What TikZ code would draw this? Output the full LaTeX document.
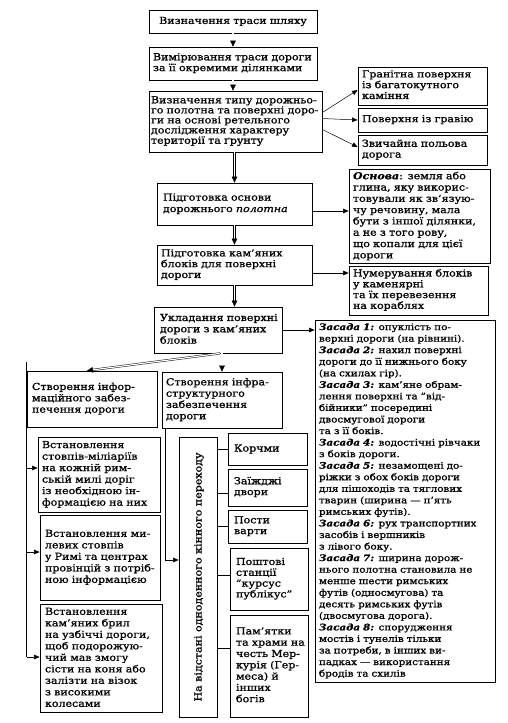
\documentclass[tikz,border=0pt]{standalone}
\usepackage{fontspec}
\setmainfont{DejaVu Serif}[FakeStretch=1.15,FakeBold=1.2]
\usetikzlibrary{arrows.meta}
\newcommand{\zsf}{\bfseries\itshape}
\newcommand{\tl}[1]{\begin{tabular}{@{}l@{}}#1\end{tabular}}
\begin{document}
\begin{tikzpicture}[x=1pt,y=-1pt,
  box/.style={draw, line width=0.75pt, inner xsep=4pt, inner ysep=2pt, align=left,
    font=\fontsize{9.6}{10.8}\selectfont},
  arr/.style={line width=0.5pt, -{Triangle[length=5.5pt,width=4.5pt]}},
  dbl/.style={double, double distance=1.2pt, line width=0.45pt, -{Triangle[length=6pt,width=5.5pt]}},
  ln/.style={line width=0.5pt}]
\useasboundingbox (0,0) rectangle (508,723);

\node[box, text width=160pt, minimum height=23pt, align=center] (b1) at (233,21.5) {Визначення траси шляху};
\node[box, text width=160pt, minimum height=33pt] (b2) at (233,63.5) {\tl{Вимірювання траси дороги\\за її окремими ділянками}};
\node[box, inner xsep=2pt, text width=169pt, minimum height=61pt, font=\fontsize{9.6}{9.9}\selectfont] (b3) at (235.5,121.5) {\tl{Визначення типу дорожньо-\\го полотна та поверхні доро-\\ги на основі ретельного\\дослідження характеру\\території та ґрунту}};
\node[box, text width=121pt, minimum height=38pt] (rA) at (422.5,86) {\tl{Гранітна поверхня\\із багатокутного\\каміння}};
\node[box, text width=121pt, minimum height=24pt] (rB) at (422.5,120) {\tl{Поверхня із гравію}};
\node[box, text width=121pt, minimum height=30pt] (rC) at (422.5,150) {\tl{Звичайна польова\\дорога}};
\node[box, inner xsep=6pt, text width=143pt, minimum height=42pt, font=\fontsize{9.6}{11.5}\selectfont] (b4) at (234.5,204) {\tl{Підготовка основи\\дорожнього \textit{полотна}}};
\node[box, text width=133pt, minimum height=93pt, font=\fontsize{9.6}{11.3}\selectfont] (osn) at (419.5,216.5) {\tl{\textbf{\textit{Основа}}: земля або\\глина, яку викорис-\\товували як зв'язую-\\чу речовину, мала\\бути з іншої ділянки,\\а не з того рову,\\що копали для цієї\\дороги}};
\node[box, text width=147pt, minimum height=40pt] (b5) at (234.5,265) {\tl{Підготовка кам'яних\\блоків для поверхні\\дороги}};
\node[box, text width=131pt, minimum height=49pt] (num) at (418.5,290.5) {\tl{Нумерування блоків\\у каменярні\\та їх перевезення\\на кораблях}};
\node[box, inner xsep=6pt, text width=116pt, minimum height=46pt, font=\fontsize{9.6}{11.3}\selectfont] (b6) at (218,330) {\tl{Укладання поверхні\\дороги з кам'яних\\блоків}};
\node[box, text width=172pt, minimum height=362pt, font=\fontsize{9}{11.55}\selectfont] (zas) at (405,501) {\tl{%
{\zsf Засада 1:} опуклість по-\\верхні дороги (на рівнині).\\
{\zsf Засада 2:} нахил поверхні\\дороги до її нижнього боку\\(на схилах гір).\\
{\zsf Засада 3:} кам'яне обрам-\\лення поверхні та "від-\\бійники" посередині\\двосмугової дороги\\та з її боків.\\
{\zsf Засада 4:} водостічні рівчаки\\з боків дороги.\\
{\zsf Засада 5:} незамощені до-\\ріжки з обох боків дороги\\для пішоходів та тяглових\\тварин (ширина --- п'ять\\римських футів).\\
{\zsf Засада 6:} рух транспортних\\засобів і вершників\\з лівого боку.\\
{\zsf Засада 7:} ширина дорож-\\нього полотна становила не\\менше шести римських\\футів (односмугова) та\\десять римських футів\\(двосмугова дорога).\\
{\zsf Засада 8:} спорудження\\мостів і тунелів тільки\\за потреби, в інших ви-\\падках --- використання\\бродів та схилів}};
\node[box, inner xsep=5pt, text width=120pt, minimum height=56pt, font=\fontsize{9.6}{11.3}\selectfont] (info) at (92,399) {\tl{Створення інфор-\\маційного забез-\\печення дороги}};
\node[box, text width=112pt, minimum height=56pt, font=\fontsize{9.6}{11.3}\selectfont] (infra) at (222,400) {\tl{Створення інфра-\\структурного\\забезпечення\\дороги}};
\node[box, text width=114pt, minimum height=75pt, font=\fontsize{9.6}{11.5}\selectfont] (L1) at (99,474.5) {\tl{Встановлення\\стовпів-міліаріїв\\на кожній рим-\\ській милі доріг\\із необхідною ін-\\формацією на них}};
\node[box, inner xsep=5pt, text width=110pt, minimum height=85pt, font=\fontsize{9.6}{11.5}\selectfont] (L2) at (100,557.5) {\tl{Встановлення ми-\\левих стовпів\\у Римі та центрах\\провінцій з потріб-\\ною інформацією}};
\node[box, inner xsep=5pt, text width=112pt, minimum height=107pt, font=\fontsize{9.6}{11.5}\selectfont] (L3) at (101,658.5) {\tl{Встановлення\\кам'яних брил\\на узбіччі дороги,\\щоб подорожую-\\чий мав змогу\\сісти на коня або\\залізти на візок\\з високими\\колесами}};
\node[box, minimum width=38pt, minimum height=280pt, inner sep=0pt] (vert) at (198,577) {};
\node[rotate=90, font=\fontsize{9.6}{10.8}\selectfont, inner sep=0pt] (vtext) at ([xshift=1pt]vert.center) {На відстані одноденного кінного переходу};
\node[box, inner xsep=6pt, text width=67pt, minimum height=32pt] (s1) at (267.5,449) {Корчми};
\node[box, inner xsep=6pt, text width=67pt, minimum height=37pt] (s2) at (267.5,487.5) {\tl{Заїжджі\\двори}};
\node[box, inner xsep=6pt, text width=67pt, minimum height=33pt] (s3) at (267.5,526.5) {\tl{Пости\\варти}};
\node[box, inner xsep=6pt, text width=66pt, minimum height=62pt] (s4) at (269,579) {\tl{Поштові\\станції\\"курсус\\публікус"}};
\node[box, inner xsep=6pt, text width=66pt, minimum height=102pt, font=\fontsize{9.6}{11.3}\selectfont] (s5) at (269,666) {\tl{Пам'ятки\\та храми на\\честь Мер-\\курія (Гер-\\меса) й\\інших\\богів}};

% main chain
\draw[dbl] (b1) -- (b2);
\draw[dbl] (b2.south) -- (b2.south |- b3.north);
\draw[dbl] (b4.north |- b3.south) -- (b4.north);
\draw[dbl] (b4) -- (b5);
\draw[dbl] (b5.south) -- (b5.south |- b6.north);
% side arrows
\draw[arr] ([yshift=9pt]b3.east) -- ([yshift=-4pt]rA.west);
\draw[arr] ([yshift=3pt]b3.east) -- (rB.west);
\draw[arr] ([yshift=-8pt]b3.east) -- ([yshift=3pt]rC.west);
\draw[arr] ([yshift=-7pt]b4.east) -- ([yshift=-7pt]b4.east -| osn.west);
\draw[arr] ([yshift=-8pt]b5.east) -- ([yshift=-8pt]b5.east -| num.west);
\draw[arr] (b6.east) -- (b6.east -| zas.west);
% branches
\draw[dbl] ([xshift=2pt]b6.south) -- ([xshift=-5pt]info.north);
\draw[dbl] (infra.north |- b6.south) -- (infra.north);
% information bus
\coordinate (bustop) at ([yshift=9pt]info.north west);
\coordinate (L1tip) at ([yshift=6.5pt]L1.west);
\coordinate (L2tip) at ([yshift=5.5pt]L2.west);
\coordinate (L3tip) at ([yshift=1.5pt]L3.west);
\draw[ln] (bustop) -- (bustop |- L3tip);
\draw[arr] (bustop |- L1tip) -- (L1tip);
\draw[arr] (bustop |- L2tip) -- (L2tip);
\draw[arr] (bustop |- L3tip) -- (L3tip);
% infrastructure
\draw[arr] ([xshift=4pt]infra.south west) |- ([yshift=17pt]vert.west);
\draw[ln] (s1.west -| vert.east) -- (s1.west);
\draw[ln] ([yshift=-5.5pt]s2.west -| vert.east) -- ([yshift=-5.5pt]s2.west);
\draw[ln] (s3.west -| vert.east) -- (s3.west);
\draw[ln] ([yshift=4pt]s4.west -| vert.east) -- ([yshift=4pt]s4.west);
\draw[ln] ([yshift=18pt]s5.west -| vert.east) -- ([yshift=18pt]s5.west);
\end{tikzpicture}
\end{document}
